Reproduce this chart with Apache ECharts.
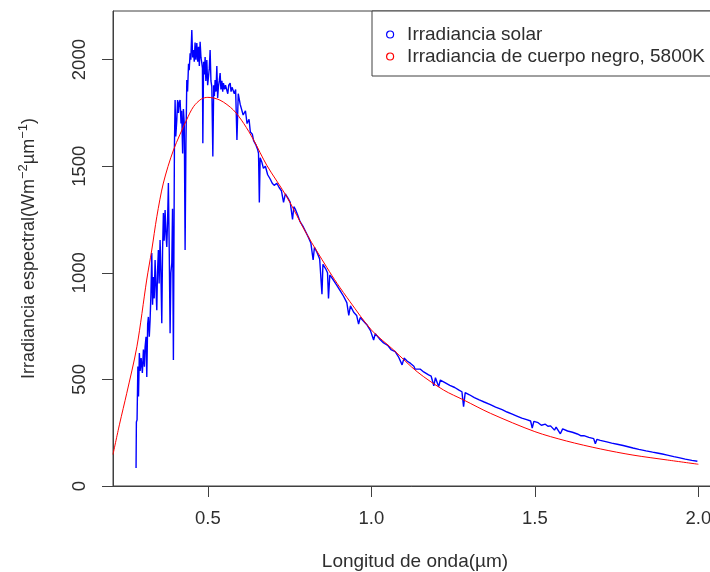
<!DOCTYPE html>
<html>
<head>
<meta charset="utf-8">
<script src="https://cdn.jsdelivr.net/npm/echarts@6/dist/echarts.min.js"></script>
<style>
  html, body { margin: 0; padding: 0; background: #fff; }
  #chart { width: 710px; height: 572px; }
</style>
</head>
<body>
<div id="chart"></div>
<script>
// Measured solar spectral irradiance (W m^-2 um^-1) against wavelength (um)
const solarWavelength = [
  0.2805, 0.2815, 0.2836, 0.2860, 0.2880, 0.2906, 0.2930, 0.2960, 0.2998, 0.3030,
  0.3060, 0.3081, 0.3110, 0.3133, 0.3160, 0.3182, 0.3210, 0.3234, 0.3260, 0.3286,
  0.3310, 0.3335, 0.3360, 0.3387, 0.3410, 0.3439, 0.3460, 0.3488, 0.3510, 0.3540,
  0.3565, 0.3592, 0.3615, 0.3641, 0.3665, 0.3693, 0.3720, 0.3745, 0.3770, 0.3794,
  0.3820, 0.3846, 0.3870, 0.3898, 0.3920, 0.3947, 0.3978, 0.3999, 0.4020, 0.4051,
  0.4075, 0.4100, 0.4125, 0.4152, 0.4180, 0.4200, 0.4230, 0.4253, 0.4280, 0.4305,
  0.4330, 0.4357, 0.4380, 0.4410, 0.4430, 0.4458, 0.4480, 0.4510, 0.4535, 0.4559,
  0.4585, 0.4610, 0.4635, 0.4663, 0.4690, 0.4715, 0.4740, 0.4764, 0.4790, 0.4816,
  0.4835, 0.4847, 0.4870, 0.4895, 0.4917, 0.4940, 0.4969, 0.4995, 0.5018, 0.5045,
  0.5070, 0.5095, 0.5122, 0.5153, 0.5180, 0.5200, 0.5223, 0.5250, 0.5275, 0.5300,
  0.5324, 0.5350, 0.5376, 0.5400, 0.5430, 0.5455, 0.5478, 0.5510, 0.5540, 0.5582,
  0.5610, 0.5640, 0.5683, 0.5710, 0.5740, 0.5784, 0.5810, 0.5850, 0.5890, 0.5930,
  0.5990, 0.6080, 0.6150, 0.6200, 0.6260, 0.6300, 0.6360, 0.6400, 0.6470, 0.6520,
  0.6550, 0.6575, 0.6600, 0.6650, 0.6700, 0.6760, 0.6830, 0.6907, 0.6970, 0.7030,
  0.7110, 0.7180, 0.7250, 0.7315, 0.7370, 0.7450, 0.7520, 0.7590, 0.7630, 0.7670,
  0.7750, 0.7820, 0.7920, 0.8000, 0.8080, 0.8150, 0.8220, 0.8260, 0.8340, 0.8420,
  0.8490, 0.8520, 0.8600, 0.8660, 0.8690, 0.8730, 0.8845, 0.8950, 0.9050, 0.9150,
  0.9250, 0.9310, 0.9360, 0.9460, 0.9550, 0.9610, 0.9660, 0.9750, 0.9870, 0.9970,
  1.0070, 1.0120, 1.0250, 1.0375, 1.0500, 1.0600, 1.0730, 1.0830, 1.0940, 1.1000,
  1.1100, 1.1200, 1.1300, 1.1340, 1.1400, 1.1500, 1.1600, 1.1640, 1.1750, 1.1830,
  1.1910, 1.1960, 1.2060, 1.2110, 1.2250, 1.2400, 1.2550, 1.2680, 1.2770, 1.2820,
  1.2870, 1.3000, 1.3150, 1.3300, 1.3340, 1.3450, 1.3640, 1.3800, 1.4000, 1.4040,
  1.4150, 1.4310, 1.4450, 1.4490, 1.4600, 1.4750, 1.4870, 1.4920, 1.4970, 1.5100,
  1.5200, 1.5320, 1.5400, 1.5480, 1.5600, 1.5650, 1.5780, 1.5850, 1.6000, 1.6150,
  1.6200, 1.6300, 1.6400, 1.6500, 1.6650, 1.6800, 1.6850, 1.6900, 1.7000, 1.7200,
  1.7350, 1.7520, 1.7560, 1.7700, 1.7850, 1.8000, 1.8180, 1.8220, 1.8400, 1.8600,
  1.8740, 1.8800, 1.8900, 1.9050, 1.9250, 1.9400, 1.9460, 1.9600, 1.9800, 1.9840,
  1.9970
];
const solarIrradiance = [
    84,  300,  310,  560,  420,  624,  540,  600,  530,  640,
   560,  652,  700,  511,  760,  793,  700,  778,  900, 1093,
   850,  980,  880, 1060,  950,  825, 1000, 1107,  950, 1154,
  1000,  764, 1100, 1280, 1150, 1295, 1180, 1121, 1250, 1421,
  1100,  717, 1000, 1046, 1300,  591, 1590, 1810, 1640, 1717,
  1810, 1750, 1800, 1810, 1700, 1760, 1560, 1768, 1700, 1107,
  1600, 1904, 1850, 1980, 1950, 2030, 2000, 2139, 2010, 2045,
  1990, 2080, 2000, 2078, 1990, 2060, 1970, 2084, 2010, 1983,
  1960, 1608, 1990, 1930, 2012, 1900, 1998, 1880, 1873, 1960,
  2045, 1900, 1873, 1545, 1880, 1830, 1904, 1850, 1970, 1820,
  1873, 1900, 1937, 1860, 1900, 1850, 1890, 1860, 1880, 1873,
  1840, 1880, 1890, 1850, 1870, 1873, 1840, 1860, 1623, 1840,
  1790, 1740, 1760, 1700, 1720, 1660, 1650, 1620, 1600, 1580,
  1560, 1330, 1540, 1520, 1490, 1500, 1460, 1440, 1420, 1410,
  1420, 1400, 1385, 1330, 1370, 1350, 1330, 1250, 1310, 1300,
  1270, 1240, 1215, 1190, 1165, 1140, 1060, 1120, 1095, 1065,
   900, 1040, 1020, 1000,  880,  990,  965,  940,  915,  890,
   860,  800,  845,  815,  800,  760,  790,  775,  755,  730,
   685,  715,  690,  671,  660,  640,  630,  606,  568,  600,
   585,  575,  562,  548,  552,  548,  535,  526,  521,  515,
   470,  508,  466,  497,  485,  472,  462,  450,  442,  372,
   438,  428,  415,  404,  396,  394,  382,  370,  358,  350,
   347,  337,  328,  320,  318,  311,  305,  272,  303,  297,
   285,  290,  280,  282,  262,  276,  245,  268,  258,  252,
   246,  244,  236,  236,  228,  222,  198,  219,  214,  207,
   201,  196,  190,  190,  184,  178,  172,  166,  165,  159,
   155,  150,  150,  145,  138,  133,  130,  126,  120,  115,
   116
];

// Black-body irradiance curve at 5800 K on the same scale
const blackbodyWavelength = [
  0.210, 0.230, 0.252, 0.283, 0.313, 0.3285, 0.344, 0.364, 0.395, 0.435,
  0.456, 0.480, 0.500, 0.537, 0.578, 0.610, 0.640, 0.680, 0.742, 0.803,
  0.864, 0.895, 0.935, 1.000, 1.068, 1.140, 1.221, 1.283, 1.364, 1.500,
  1.597, 1.700, 1.800, 1.905, 2.000
];
const blackbodyIrradiance = [
   148,  290,  435,  653,  966, 1107, 1263, 1421, 1576, 1717,
  1779, 1815, 1823, 1810, 1764, 1700, 1623, 1505, 1355, 1180,
  1025,  951,  864,  732,  638,  536,  450,  403,  341,  255,
   211,  174,  145,  122,  102
];

const xTickValues = [0.5, 1.0, 1.5, 2.0];
const yTickValues = [0, 500, 1000, 1500, 2000];

const seriesNames = ['Irradiancia solar', 'Irradiancia de cuerpo negro, 5800K'];

const zip = (xs, ys) => xs.map((x, i) => [x, ys[i]]);

const FONT = '"Liberation Sans", Arial, Helvetica, sans-serif';
const INK = '#2e2e2e';
const FRAME = '#404040';

const chart = echarts.init(document.getElementById('chart'), null, { renderer: 'canvas' });

chart.setOption({
  backgroundColor: '#ffffff',
  animation: false,
  textStyle: { fontFamily: FONT, color: INK },
  grid: {
    left: 113, top: 11, width: 604, height: 475,
    outerBoundsMode: 'none',
    containLabel: false,
    show: true, borderColor: FRAME, borderWidth: 1, backgroundColor: 'transparent'
  },
  legend: {
    orient: 'vertical',
    left: 372, top: 11,
    padding: [14, 80, 10, 14],
    itemGap: 3,
    itemWidth: 24, itemHeight: 7,
    borderColor: FRAME, borderWidth: 1,
    backgroundColor: '#fff',
    textStyle: { fontFamily: FONT, fontSize: 19, lineHeight: 19, color: INK },
    data: [
      { name: seriesNames[0], icon: 'circle', itemStyle: { color: '#ffffff', borderColor: '#0000ff', borderWidth: 1.2 } },
      { name: seriesNames[1], icon: 'circle', itemStyle: { color: '#ffffff', borderColor: '#ff0000', borderWidth: 1.2 } }
    ]
  },
  xAxis: {
    type: 'value',
    min: 0.21, max: 2.057,
    name: 'Longitud de onda(µm)',
    nameLocation: 'middle',
    nameGap: 66,
    nameTextStyle: { fontFamily: FONT, fontSize: 19, color: INK },
    splitLine: { show: false },
    axisLine: { show: true, lineStyle: { color: FRAME, width: 1 } },
    axisTick: { show: true, inside: false, length: 11, lineStyle: { color: FRAME }, customValues: xTickValues },
    axisLabel: {
      customValues: xTickValues,
      fontFamily: FONT, fontSize: 18.5, color: INK, margin: 23,
      formatter: v => v.toFixed(1)
    }
  },
  yAxis: {
    type: 'value',
    min: 0, max: 2228,
    name: 'Irradiancia espectral(Wm{sup|−2}µm{sup|−1})',
    nameLocation: 'middle',
    nameGap: 72,
    nameRotate: 90,
    nameTextStyle: {
      fontFamily: FONT, fontSize: 18, color: INK,
      rich: { sup: { fontFamily: FONT, fontSize: 13, color: INK, padding: [0, 0, 11, 0] } }
    },
    splitLine: { show: false },
    axisLine: { show: true, lineStyle: { color: FRAME, width: 1 } },
    axisTick: { show: true, inside: false, length: 11, lineStyle: { color: FRAME }, customValues: yTickValues },
    axisLabel: {
      customValues: yTickValues,
      rotate: 90,
      align: 'center',
      verticalAlign: 'bottom',
      fontFamily: FONT, fontSize: 18.5, color: INK, margin: 24,
      formatter: v => String(v)
    }
  },
  series: [
    {
      name: seriesNames[0],
      type: 'line',
      data: zip(solarWavelength, solarIrradiance),
      showSymbol: false,
      color: '#0000ff',
      itemStyle: { color: '#0000ff' },
      lineStyle: { color: '#0000ff', width: 1.4 },
      z: 2
    },
    {
      name: seriesNames[1],
      type: 'line',
      data: zip(blackbodyWavelength, blackbodyIrradiance),
      showSymbol: false,
      smooth: 0.3,
      color: '#ff0000',
      itemStyle: { color: '#ff0000' },
      lineStyle: { color: '#ff0000', width: 1 },
      z: 3
    }
  ]
});
</script>
</body>
</html>
